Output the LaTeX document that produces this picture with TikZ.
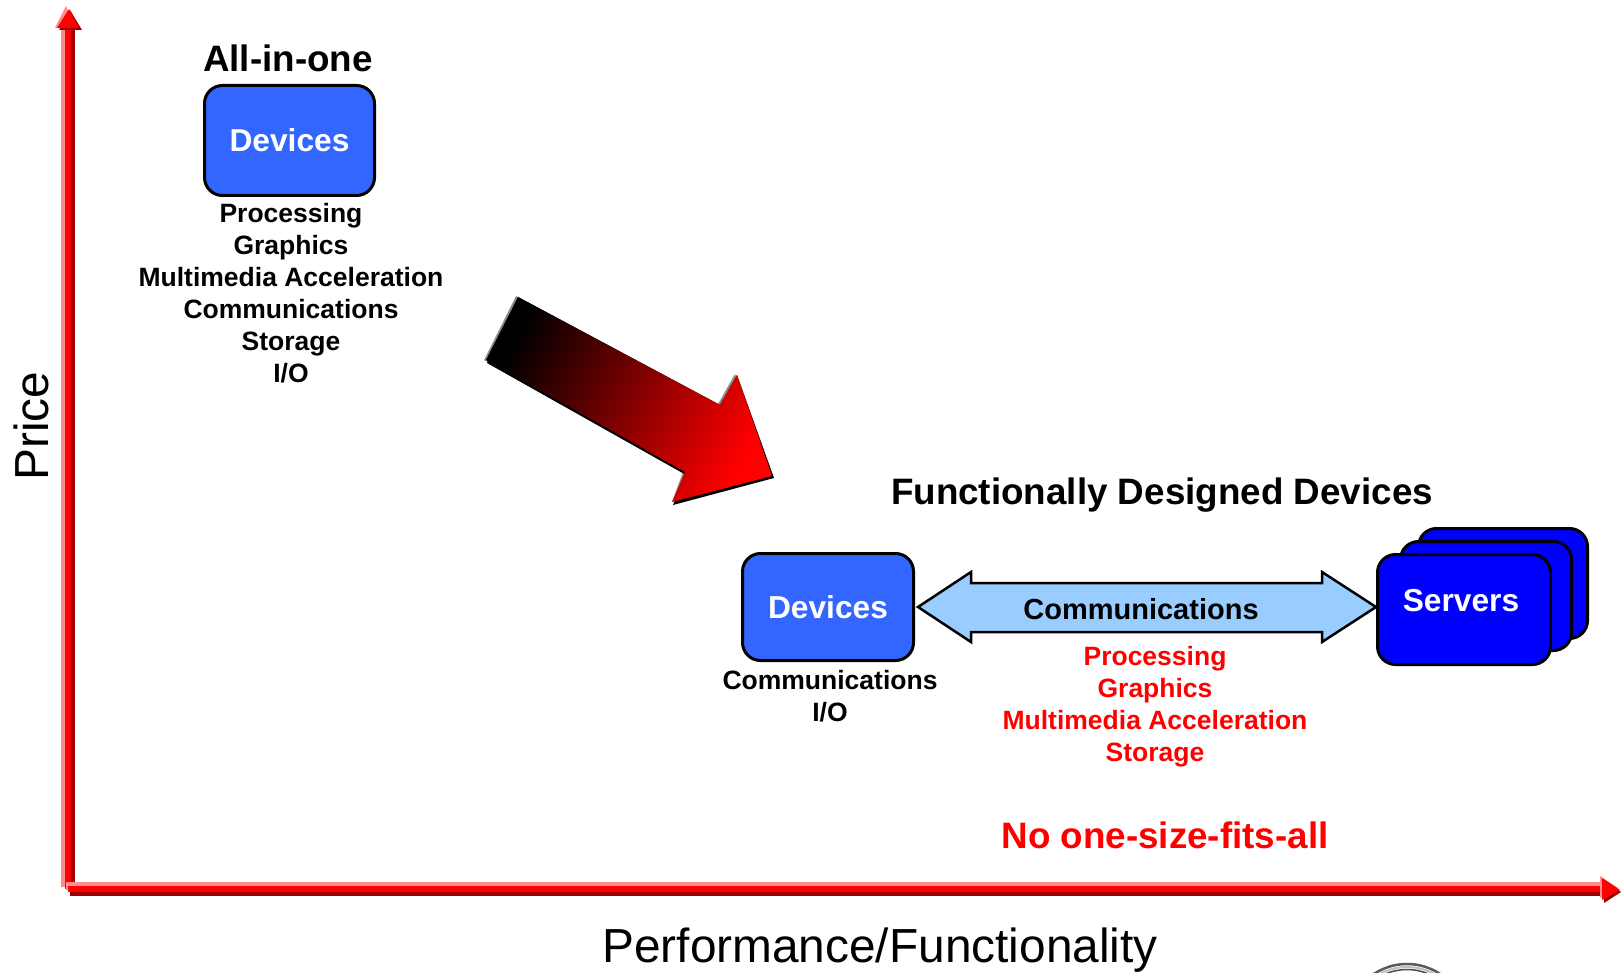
\documentclass[tikz,border=0pt]{standalone}
\usepackage{fontspec}
\setmainfont{Liberation Sans}
\usetikzlibrary{calc}
\definecolor{devblue}{HTML}{3366FF}
\definecolor{srvblue}{HTML}{0000FF}
\definecolor{commblue}{HTML}{99CCFF}
\definecolor{axisred}{HTML}{FF0000}
\definecolor{axisdark}{HTML}{A00000}
\definecolor{axislight}{HTML}{FF8C8C}
\newcommand\fsz[2]{\fontsize{#1pt}{#2pt}\selectfont}
\begin{document}
\begin{tikzpicture}[x=1pt,y=-1pt,
  box/.style={draw=black, line width=3pt, rounded corners=18pt, inner sep=0pt,
    text=white, font=\bfseries\fsz{31.7}{38}},
  devbox/.style={box, fill=devblue},
  srvbox/.style={box, fill=srvblue},
  listtxt/.style={align=center, inner sep=0pt, font=\bfseries\fsz{26.5}{32}},
  title/.style={inner sep=0pt, anchor=base, font=\bfseries\fsz{36.8}{44}},
  axislabel/.style={inner sep=0pt, font=\fsz{47.8}{57}},
  commarrow/.style={draw=black, line width=2.5pt, fill=commblue, line join=miter},
  bigarrow/.style={shading=axis, top color=black, bottom color=axisred, shading angle=62},
]
\useasboundingbox (0,0) rectangle (1621,973);

% ---------- axes ----------
\coordinate (O) at (68,889);
\coordinate (Ybase) at (68,28);
\coordinate (Ytip) at (69,9);
\coordinate (Xbase) at (1602,889);
\coordinate (Xtip) at (1620,890);

% vertical axis: highlight, shadow, body
\draw[axislight, line width=8pt] ($(O)+(-3,-2)$) -- ($(Ybase)+(-3,0)$);
\draw[axisdark, line width=8pt] ($(O)+(3,0)$) -- ($(Ybase)+(3,2)$);
\draw[axisred, line width=6pt] (O) -- (Ybase);
\fill[axislight] ($(Ybase)+(-13,0)$) -- ($(Ytip)+(-3,-3)$) -- ($(Ybase)+(7,0)$) -- cycle;
\fill[axisdark] ($(Ybase)+(-9,2)$) -- ($(Ytip)+(1,1)$) -- ($(Ybase)+(14,2)$) -- cycle;
\fill[axisred] ($(Ybase)+(-11,0)$) -- (Ytip) -- ($(Ybase)+(11,0)$) -- cycle;

% horizontal axis: highlight, shadow, body
\draw[axislight, line width=8pt] ($(O)+(-2,-3)$) -- ($(Xbase)+(0,-3)$);
\draw[axisdark, line width=8pt] ($(O)+(2,3)$) -- ($(Xbase)+(0,3)$);
\draw[axisred, line width=6pt] (O) -- (Xbase);
\fill[axislight] ($(Xbase)+(-2,-13)$) -- ($(Xtip)+(-2,-2)$) -- ($(Xbase)+(-2,9)$) -- cycle;
\fill[axisdark] ($(Xbase)+(2,-9)$) -- ($(Xtip)+(1,2)$) -- ($(Xbase)+(2,14)$) -- cycle;
\fill[axisred] ($(Xbase)+(0,-11)$) -- (Xtip) -- ($(Xbase)+(0,11)$) -- cycle;

\node[axislabel, rotate=90] (ylab) at (31,426) {Price};
\node[axislabel, anchor=base] (xlab) at (880,962) {Performance/Functionality};

% ---------- all-in-one device ----------
\node[title] (aio) at (288,72) {All-in-one};
\node[devbox, minimum width=170pt, minimum height=110pt] (dev1) at (289.5,140.5) {Devices};
\node[listtxt] (list1) at (291,293) {Processing\\Graphics\\Multimedia Acceleration\\Communications\\Storage\\I/O};

% ---------- transition arrow ----------
\begin{scope}
  \path[fill=black!45] ($(518,297)+(-2,-1)$) -- ($(720,405)+(-2,-1)$) -- ($(737,375)+(-2,-1)$)
    -- (772,476) -- (672,502) -- ($(685,472)+(-2,0)$) -- ($(486,360)+(-2,0)$) -- cycle;
  \path[fill=black] (518,297) -- (720,405) -- (737,375)
    -- ($(772,476)+(2,2)$) -- ($(672,502)+(1,3)$) -- ($(685,472)+(1,3)$) -- ($(486,360)+(1,3)$) -- cycle;
  \shade[bigarrow] (518,297) -- (720,405) -- (737,375) -- (772,476)
    -- (672,502) -- (685,472) -- (486,360) -- cycle;
\end{scope}

% ---------- functionally designed devices ----------
\node[title] (fdd) at (1162,504) {Functionally Designed Devices};

\node[srvbox, minimum width=169pt, minimum height=110pt] (srvback) at (1503,583.5) {};
\node[srvbox, minimum width=171pt, minimum height=109pt] (srvmid) at (1486,596) {};
\node[srvbox, minimum width=173pt, minimum height=110pt] (srv) at (1464,609.5) {};
\node[inner sep=0pt, text=white, font=\bfseries\fsz{31.7}{38}] (srvlab) at ($(srv.center)+(-3,-9)$) {Servers};

\node[devbox, minimum width=171pt, minimum height=107pt] (dev2) at (828,607) {Devices};
\node[listtxt] (list2) at (830,696) {Communications\\I/O};

\coordinate (cL) at ($(dev2.east)+(3,0)$);
\coordinate (cR) at (srv.west |- dev2.east);
\draw[commarrow] (cL) -- ++(53,-35) -- ++(0,11) -- ($(cR)+(-54,-24)$) -- ++(0,-11) -- (cR)
  -- ++(-54,35) -- ++(0,-10) -- ($(cL)+(53,25)$) -- ++(0,10) -- cycle;
\node[inner sep=0pt, font=\bfseries\fsz{29}{35}] (commlab) at ($(cL)!0.5!(cR)+(-6,2)$) {Communications};

\node[listtxt, text=axisred] (list3) at (1155,707) {Processing\\Graphics\\Multimedia Acceleration\\Storage};

\node[title, text=axisred] (nosize) at (1165,848) {No one-size-fits-all};

% ---------- emblem at the lower edge ----------
\begin{scope}
  \clip (0,0) rectangle (1621,973);
  \draw[black!65, line width=2.5pt] (1407,1024) circle (60);
  \draw[black!25, line width=2pt] (1407,1024) circle (57);
  \draw[black!70, line width=1.5pt] (1407,1024) circle (54.5);
\end{scope}
\end{tikzpicture}
\end{document}
